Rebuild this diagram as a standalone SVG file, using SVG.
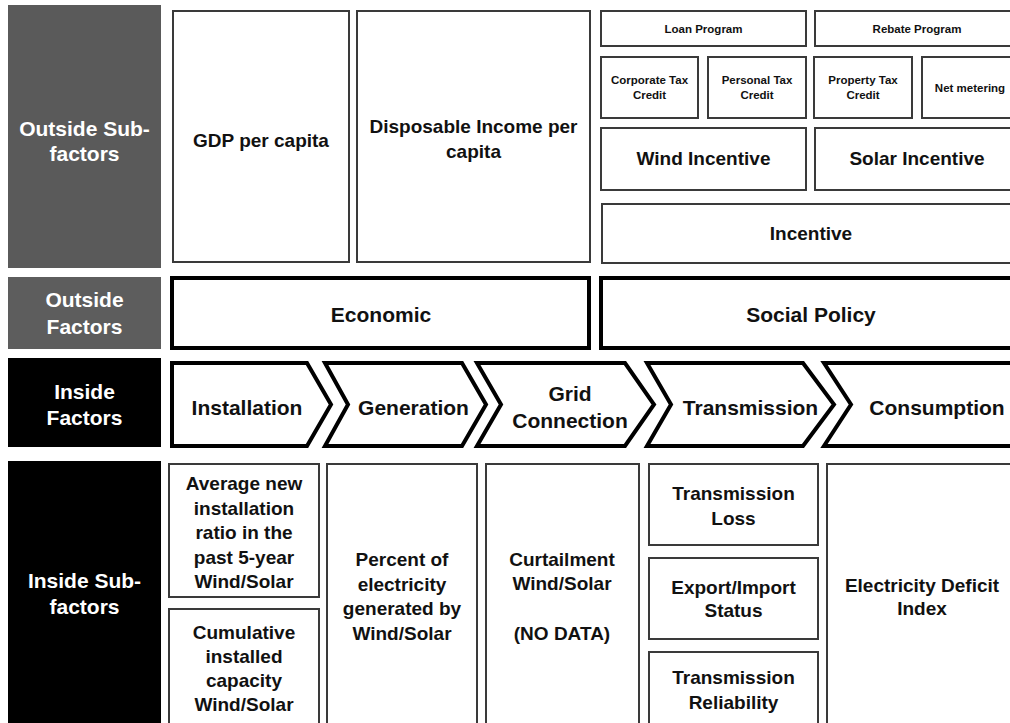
<svg xmlns="http://www.w3.org/2000/svg" width="1010" height="723" viewBox="0 0 1010 723">
<style>
text{font-family:"Liberation Sans",Arial,Helvetica,sans-serif;font-weight:bold;text-anchor:middle;fill:#111}
.lbl{fill:#fff;font-size:21px}
.b{fill:#fff;stroke:#3a3a3a;stroke-width:2}
.k{fill:#fff;stroke:#000;stroke-width:4;stroke-linejoin:miter}
.t19{font-size:19px}
.t21{font-size:21px}
.s{font-size:11.5px}
</style>
<rect width="1010" height="723" fill="#fff"/>
<g id="label-outside-sub">
<rect x="8" y="5" width="153" height="263" fill="#5a5a5a"/>
<text class="lbl" x="84.5" y="135.5">Outside Sub-</text>
<text class="lbl" x="84.5" y="161">factors</text>
</g>
<g id="label-outside">
<rect x="8" y="277" width="153" height="72" fill="#5d5d5d"/>
<text class="lbl" x="84.5" y="307">Outside</text>
<text class="lbl" x="84.5" y="334">Factors</text>
</g>
<g id="label-inside">
<rect x="8" y="358" width="153" height="89" fill="#000"/>
<text class="lbl" x="84.5" y="398.5">Inside</text>
<text class="lbl" x="84.5" y="424.5">Factors</text>
</g>
<g id="label-inside-sub">
<rect x="8" y="461" width="153" height="270" fill="#000"/>
<text class="lbl" x="84.5" y="587.5">Inside Sub-</text>
<text class="lbl" x="84.5" y="614">factors</text>
</g>
<g id="gdp"><rect class="b" x="173" y="11" width="176" height="251"/><text class="t19" x="261" y="147">GDP per capita</text></g>
<g id="disposable"><rect class="b" x="357" y="11" width="233" height="251"/><text class="t19" x="473.5" y="133">Disposable Income per</text><text class="t19" x="473.5" y="158">capita</text></g>
<g id="loan"><rect class="b" x="601" y="11" width="205" height="35"/><text class="s" x="703.5" y="33">Loan Program</text></g>
<g id="rebate"><rect class="b" x="815" y="11" width="210" height="35"/><text class="s" x="917" y="33">Rebate Program</text></g>
<g id="corporate"><rect class="b" x="601" y="57" width="97" height="61"/><text class="s" x="649.5" y="84">Corporate Tax</text><text class="s" x="649.5" y="99">Credit</text></g>
<g id="personal"><rect class="b" x="708" y="57" width="98" height="61"/><text class="s" x="757" y="84">Personal Tax</text><text class="s" x="757" y="99">Credit</text></g>
<g id="property"><rect class="b" x="814" y="57" width="98" height="61"/><text class="s" x="863" y="84">Property Tax</text><text class="s" x="863" y="99">Credit</text></g>
<g id="netmetering"><rect class="b" x="922" y="57" width="100" height="61"/><text class="s" x="970" y="92">Net metering</text></g>
<g id="wind"><rect class="b" x="601" y="128" width="205" height="62"/><text class="t19" x="703.5" y="165">Wind Incentive</text></g>
<g id="solar"><rect class="b" x="815" y="128" width="210" height="62"/><text class="t19" x="917" y="165">Solar Incentive</text></g>
<g id="incentive"><rect class="b" x="602" y="204" width="420" height="59"/><text class="t19" x="811" y="240">Incentive</text></g>
<g id="economic"><rect class="k" x="172" y="278" width="417" height="70"/><text class="t21" x="381" y="321.5">Economic</text></g>
<g id="social"><rect class="k" x="601" y="278" width="430" height="70"/><text class="t21" x="811" y="321.5">Social Policy</text></g>
<g id="installation"><path class="k" d="M172,363 L307,363 L331,404.5 L307,446 L172,446 Z"/><text class="t21" x="247" y="414.5">Installation</text></g>
<g id="generation"><path class="k" d="M325,363 L462,363 L486,404.5 L462,446 L325,446 L348,404.5 Z"/><text class="t21" x="413.5" y="414.5">Generation</text></g>
<g id="grid"><path class="k" d="M477,363 L625,363 L654,404.5 L625,446 L477,446 L501,404.5 Z"/><text class="t21" x="570" y="400.5">Grid</text><text class="t21" x="570" y="427.5">Connection</text></g>
<g id="transmission"><path class="k" d="M647,363 L803,363 L834,404.5 L803,446 L647,446 L671,404.5 Z"/><text class="t21" x="750.5" y="414.5">Transmission</text></g>
<g id="consumption"><path class="k" d="M824,363 L1040,363 L1040,446 L824,446 L851,404.5 Z"/><text class="t21" x="937" y="414.5">Consumption</text></g>
<g id="avgnew"><rect class="b" x="169" y="464" width="150" height="133"/>
<text class="t19" x="244" y="490">Average new</text><text class="t19" x="244" y="514.5">installation</text><text class="t19" x="244" y="539">ratio in the</text><text class="t19" x="244" y="563.5">past 5-year</text><text class="t19" x="244" y="588">Wind/Solar</text></g>
<g id="cumulative"><rect class="b" x="169" y="609" width="150" height="130"/>
<text class="t19" x="244" y="639">Cumulative</text><text class="t19" x="244" y="663">installed</text><text class="t19" x="244" y="687">capacity</text><text class="t19" x="244" y="711">Wind/Solar</text></g>
<g id="percent"><rect class="b" x="327" y="464" width="150" height="280"/>
<text class="t19" x="402" y="566">Percent of</text><text class="t19" x="402" y="590.5">electricity</text><text class="t19" x="402" y="615">generated by</text><text class="t19" x="402" y="639.5">Wind/Solar</text></g>
<g id="curtailment"><rect class="b" x="486" y="464" width="153" height="280"/>
<text class="t19" x="562" y="566">Curtailment</text><text class="t19" x="562" y="590">Wind/Solar</text><text class="t19" x="562" y="640">(NO DATA)</text></g>
<g id="transloss"><rect class="b" x="649" y="464" width="169" height="81"/><text class="t19" x="733.5" y="500">Transmission</text><text class="t19" x="733.5" y="525">Loss</text></g>
<g id="export"><rect class="b" x="649" y="558" width="169" height="81"/><text class="t19" x="733.5" y="594">Export/Import</text><text class="t19" x="733.5" y="617">Status</text></g>
<g id="reliability"><rect class="b" x="649" y="652" width="169" height="100"/><text class="t19" x="733.5" y="684">Transmission</text><text class="t19" x="733.5" y="709">Reliability</text></g>
<g id="deficit"><rect class="b" x="827" y="464" width="200" height="280"/><text class="t19" x="922" y="592">Electricity Deficit</text><text class="t19" x="922" y="615">Index</text></g>
<g id="connectors"></g>
</svg>
